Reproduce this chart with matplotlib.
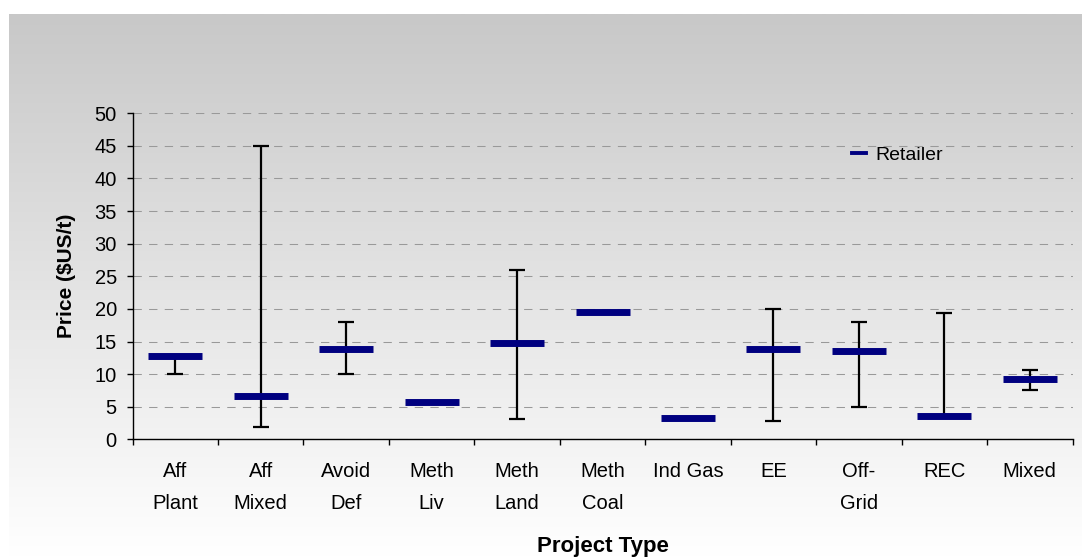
import numpy as np
import matplotlib.pyplot as plt
from matplotlib.lines import Line2D

plt.rcParams['font.family'] = ['Liberation Sans', 'DejaVu Sans']

# Data
categories = ['Aff\nPlant', 'Aff\nMixed', 'Avoid\nDef', 'Meth\nLiv', 'Meth\nLand',
              'Meth\nCoal', 'Ind Gas', 'EE', 'Off-\nGrid', 'REC', 'Mixed']
retailer = [12.7, 6.7, 13.9, 5.7, 14.8, 19.5, 3.3, 13.9, 13.6, 3.6, 9.2]
price_low = [10, 1.9, 10, None, 3.1, None, None, 2.8, 5, 3.4, 7.5]
price_high = [13, 45, 18, None, 26, None, None, 20, 18, 19.3, 10.6]
yticks = np.arange(0, 51, 5)

fig = plt.figure(figsize=(10.82, 5.57), dpi=100)
fig.patch.set_facecolor('white')

# gray-to-white gradient behind the chart
bg = fig.add_axes([9 / 1082, 0, 1 - 9 / 1082, (557 - 14) / 557], zorder=-10)
grad = np.linspace(200, 255, 256).reshape(-1, 1) / 255.0
bg.imshow(np.dstack([grad, grad, grad]), aspect='auto', extent=[0, 1, 0, 1], origin='upper')
bg.set_axis_off()

ax = fig.add_axes([132.5 / 1082, 1 - 439.3 / 557, 940 / 1082, 326 / 557])
ax.patch.set_alpha(0)

x = np.arange(len(categories))

# range bars
for i in x:
    if price_low[i] is None:
        continue
    ax.errorbar(i, retailer[i],
                yerr=[[retailer[i] - price_low[i]], [price_high[i] - retailer[i]]],
                fmt='none', ecolor='black', elinewidth=1.6, capsize=5.8, capthick=1.6, zorder=2)

# retailer prices
ax.plot(x, retailer, ls='none', marker='_', ms=39, mew=5, color='#000080', zorder=3)

ax.set_xlim(-0.5, len(categories) - 0.5)
ax.set_ylim(0, 50)
ax.set_yticks(yticks)
ax.set_xticks(np.arange(len(categories) + 1) - 0.5)
ax.set_xticklabels([])
ax.set_xticks(x, labels=categories, minor=True)
for lbl in ax.get_xticklabels(minor=True):
    lbl.set_linespacing(1.9)

ax.tick_params(axis='x', which='major', direction='out', length=4.3, width=1)
ax.tick_params(axis='x', which='minor', length=0, pad=16, labelsize=14.5)
ax.tick_params(axis='y', direction='out', length=4.3, width=1, pad=7, labelsize=14.5)

ax.yaxis.grid(True, ls=(0, (8, 7)), color='#999999', lw=0.75)
ax.set_axisbelow(True)

for s in ['top', 'right']:
    ax.spines[s].set_visible(False)
for s in ['left', 'bottom']:
    ax.spines[s].set_linewidth(1)
    ax.spines[s].set_color('black')

ax.set_ylabel('Price ($US/t)', fontsize=15, fontweight='bold', va='center')
ax.yaxis.set_label_coords(-0.0705, 0.5)
ax.set_xlabel('Project Type', fontsize=16, fontweight='bold', va='baseline')
ax.xaxis.set_label_coords(0.5, -0.3448)

handle = Line2D([0], [0], color='#000080', lw=2.8)
ax.legend([handle], ['Retailer'], loc='center left', bbox_to_anchor=(852 / 1082, 1 - 155 / 557),
          bbox_transform=fig.transFigure, frameon=False, fontsize=14, borderpad=0,
          borderaxespad=0, handlelength=0.72, handletextpad=0.46)

fig.savefig('out.png', dpi=100)
